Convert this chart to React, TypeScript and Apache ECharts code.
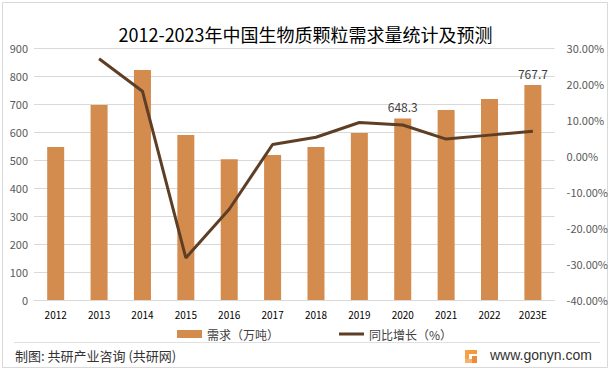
import React, { useEffect, useRef } from "react";
import * as echarts from "echarts";

const categories = ["2012", "2013", "2014", "2015", "2016", "2017", "2018", "2019", "2020", "2021", "2022", "2023E"];
const demand = [546, 696, 821, 589, 503, 518, 546, 596, 648.3, 679, 718, 767.7];
const growth = [null, 27.0, 18.0, -28.3, -14.8, 3.2, 5.2, 9.3, 8.6, 4.7, 5.8, 6.9];
const labeledYears = ["2020", "2023E"];
const leftTicks = { min: 0, max: 900, interval: 100 };
const rightTicks = { min: -40, max: 30, interval: 10 };

const FONT = '"Noto Sans CJK SC", "Noto Sans", sans-serif';

export default function App() {
  const ref = useRef<HTMLDivElement>(null);
  useEffect(() => {
    document.body.style.margin = "0";
    const chart = echarts.init(ref.current!, null, { renderer: "svg" });
    chart.setOption({
      animation: false,
      textStyle: { fontFamily: FONT },
      title: {
        text: "2012-2023年中国生物质颗粒需求量统计及预测",
        left: "center",
        top: 20,
        textStyle: { fontSize: 18, fontWeight: "normal", color: "#000", fontFamily: FONT },
      },
      grid: { left: 34, right: 56, top: 48, bottom: 70 },
      legend: {
        left: 172,
        top: 323,
        itemGap: 60,
        itemWidth: 25,
        itemHeight: 8,
        textStyle: { fontSize: 12, color: "#404040", fontFamily: FONT },
        data: [
          { name: "需求（万吨）", icon: "rect" },
          {
            name: "同比增长（%）",
            icon: "path://M0,0H0.01V0.01H0Z M0,2.5H25V5.5H0Z M24.99,7.99H25V8H24.99Z",
            itemStyle: { color: "#5e3f26" },
          },
        ],
      },
      xAxis: {
        type: "category",
        data: categories,
        axisTick: { show: false },
        axisLine: { lineStyle: { color: "#d9d9d9" } },
        axisLabel: { fontSize: 10, color: "#000", margin: 9 },
      },
      yAxis: [
        {
          type: "value",
          ...leftTicks,
          axisLine: { show: false },
          axisTick: { show: false },
          splitLine: { lineStyle: { color: "#d9d9d9" } },
          axisLabel: { fontSize: 11, color: "#595959", margin: 6 },
        },
        {
          type: "value",
          ...rightTicks,
          axisLine: { show: false },
          axisTick: { show: false },
          splitLine: { show: false },
          axisLabel: {
            fontSize: 11,
            color: "#595959",
            margin: 12,
            formatter: (v: number) => v.toFixed(2) + "%",
          },
        },
      ],
      series: [
        {
          name: "需求（万吨）",
          type: "bar",
          barWidth: 17,
          itemStyle: { color: "#d48b4e" },
          data: demand.map((v, i) => ({
            value: v,
            label: {
              show: labeledYears.includes(categories[i]),
              position: "top",
              distance: 6,
              fontSize: 12,
              color: "#404040",
              formatter: (p: any) => String(p.value),
            },
          })),
        },
        {
          name: "同比增长（%）",
          type: "line",
          yAxisIndex: 1,
          symbol: "none",
          lineStyle: { color: "#5e3f26", width: 3 },
          itemStyle: { color: "#5e3f26" },
          data: growth,
        },
      ],
      graphic: [
        {
          type: "rect",
          shape: { x: 2.5, y: 2.5, width: 605, height: 365 },
          style: { fill: "none", stroke: "#d9d9d9", lineWidth: 1 },
        },
        {
          type: "line",
          shape: { x1: 14, y1: 342.5, x2: 600, y2: 342.5 },
          style: { stroke: "#e0e0e0", lineWidth: 1 },
        },
        {
          type: "text",
          left: 15,
          top: 349,
          style: { text: "制图: 共研产业咨询 (共研网)", fontSize: 13, fill: "#333", fontFamily: FONT },
        },
        {
          type: "group",
          left: 465,
          top: 350,
          children: [
            { type: "rect", shape: { x: 0, y: 0, width: 12, height: 4 }, style: { fill: "#f29a3c" } },
            { type: "rect", shape: { x: 0, y: 0, width: 4, height: 13 }, style: { fill: "#f5a04a" } },
            { type: "rect", shape: { x: 0, y: 9, width: 12, height: 4 }, style: { fill: "#f7b26e" } },
            { type: "rect", shape: { x: 7, y: 6, width: 5, height: 7 }, style: { fill: "#ef8a3a" } },
          ],
        },
        {
          type: "text",
          left: 490,
          top: 348,
          style: { text: "www.gonyn.com", fontSize: 14, fill: "#333", fontFamily: '"Liberation Sans", Arial, sans-serif' },
        },
      ],
    });
    return () => chart.dispose();
  }, []);
  return <div ref={ref} style={{ width: 611, height: 370 }} />;
}
